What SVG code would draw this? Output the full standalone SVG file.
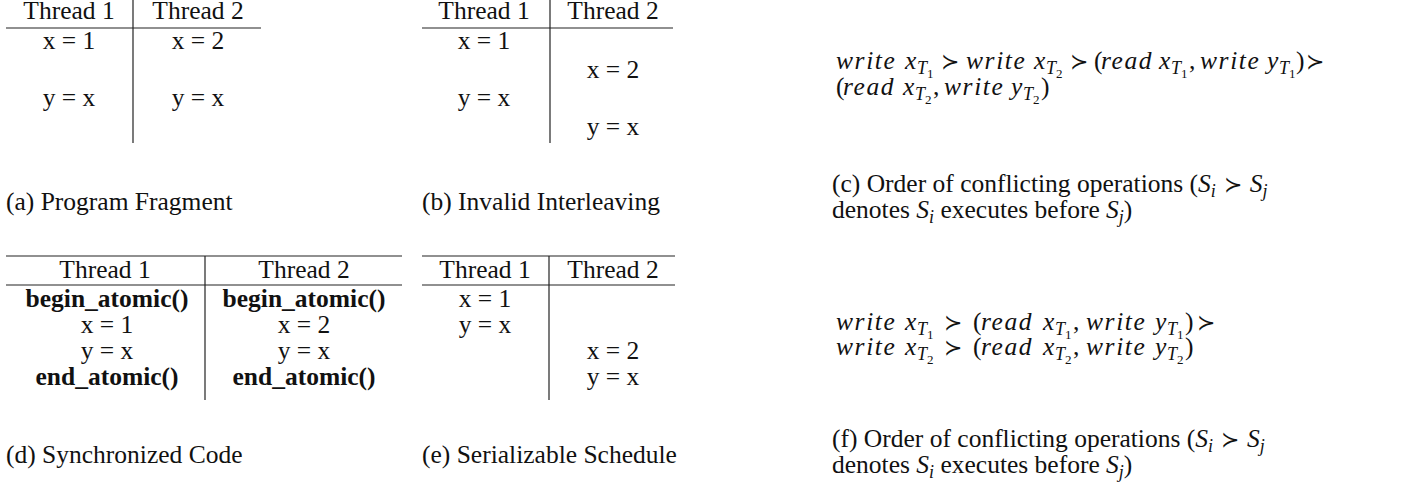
<svg xmlns="http://www.w3.org/2000/svg" width="1411" height="488" viewBox="0 0 1411 488">
  <style>
    text { font-family: "Liberation Serif", "Times New Roman", serif; font-size: 25.5px; fill: #111; }
    .c { text-anchor: middle; }
    .b { font-weight: bold; }
    .rule { stroke: #222; stroke-width: 1.2; fill: none; }
    .mi { font-style: italic; }
    .w { font-style: italic; letter-spacing: 1.6px; }
    .sub { font-style: italic; font-size: 18px; }
    .ss { font-size: 13px; }
    .op { font-family: "DejaVu Serif", serif; font-size: 22px; }
    .cs { font-style: italic; font-size: 18px; }
  </style>

  <!-- (a) program fragment -->
  <g id="table-a">
    <line class="rule" x1="6" y1="28" x2="261" y2="28"/>
    <line class="rule" x1="133" y1="0" x2="133" y2="143"/>
    <text class="c" x="69" y="19">Thread 1</text>
    <text class="c" x="198" y="19">Thread 2</text>
    <text class="c" x="69" y="49">x = 1</text>
    <text class="c" x="198" y="49">x = 2</text>
    <text class="c" x="69" y="106">y = x</text>
    <text class="c" x="198" y="106">y = x</text>
    <text x="6" y="210">(a) Program Fragment</text>
  </g>

  <!-- (b) invalid interleaving -->
  <g id="table-b">
    <line class="rule" x1="422" y1="28" x2="673" y2="28"/>
    <line class="rule" x1="550" y1="0" x2="550" y2="143"/>
    <text class="c" x="484" y="19">Thread 1</text>
    <text class="c" x="613" y="19">Thread 2</text>
    <text class="c" x="484" y="49">x = 1</text>
    <text class="c" x="613" y="78">x = 2</text>
    <text class="c" x="484" y="106">y = x</text>
    <text class="c" x="613" y="135">y = x</text>
    <text x="422" y="210">(b) Invalid Interleaving</text>
  </g>

  <!-- (c) order of conflicting operations -->
  <g id="order-c">
    <text y="69">
      <tspan class="w" x="836">write</tspan><tspan class="mi" x="905">x</tspan><tspan class="sub" x="917" dy="5">T</tspan><tspan class="ss" x="927" dy="4">1</tspan>
      <tspan class="op" x="941" dy="-9">≻</tspan>
      <tspan class="w" x="966">write</tspan><tspan class="mi" x="1034">x</tspan><tspan class="sub" x="1046" dy="5">T</tspan><tspan class="ss" x="1056" dy="4">2</tspan>
      <tspan class="op" x="1070" dy="-9">≻</tspan>
      <tspan x="1094">(</tspan><tspan class="w" x="1101">read</tspan><tspan class="mi" x="1159">x</tspan><tspan class="sub" x="1171" dy="5">T</tspan><tspan class="ss" x="1181" dy="4">1</tspan><tspan x="1189" dy="-9">,</tspan>
      <tspan class="w" x="1200">write</tspan><tspan class="mi" x="1267">y</tspan><tspan class="sub" x="1279" dy="5">T</tspan><tspan class="ss" x="1289" dy="4">1</tspan><tspan x="1296" dy="-9">)</tspan>
      <tspan class="op" x="1306">≻</tspan>
    </text>
    <text y="95">
      <tspan x="836">(</tspan><tspan class="w" x="843">read</tspan><tspan class="mi" x="903">x</tspan><tspan class="sub" x="915" dy="5">T</tspan><tspan class="ss" x="925" dy="4">2</tspan><tspan x="933" dy="-9">,</tspan>
      <tspan class="w" x="944">write</tspan><tspan class="mi" x="1011">y</tspan><tspan class="sub" x="1023" dy="5">T</tspan><tspan class="ss" x="1033" dy="4">2</tspan><tspan x="1041" dy="-9">)</tspan>
    </text>
    <text x="832" y="192">(c) Order of conflicting operations (<tspan class="mi">S</tspan><tspan class="cs" dy="5">i</tspan><tspan class="op" dx="8" dy="-5">≻</tspan><tspan class="mi" dx="8">S</tspan><tspan class="cs" dy="5">j</tspan></text>
    <text x="832" y="218">denotes <tspan class="mi">S</tspan><tspan class="cs" dy="5">i</tspan><tspan dy="-5"> executes before </tspan><tspan class="mi">S</tspan><tspan class="cs" dy="5">j</tspan><tspan dy="-5">)</tspan></text>
  </g>

  <!-- (d) synchronized code -->
  <g id="table-d">
    <line class="rule" x1="6" y1="256" x2="402" y2="256"/>
    <line class="rule" x1="6" y1="285" x2="402" y2="285"/>
    <line class="rule" x1="205" y1="256" x2="205" y2="400"/>
    <text class="c" x="105" y="278">Thread 1</text>
    <text class="c" x="304" y="278">Thread 2</text>
    <text class="c b" x="107" y="307">begin_atomic()</text>
    <text class="c b" x="304" y="307">begin_atomic()</text>
    <text class="c" x="107" y="333">x = 1</text>
    <text class="c" x="304" y="333">x = 2</text>
    <text class="c" x="107" y="359">y = x</text>
    <text class="c" x="304" y="359">y = x</text>
    <text class="c b" x="107" y="385">end_atomic()</text>
    <text class="c b" x="304" y="385">end_atomic()</text>
    <text x="6" y="463">(d) Synchronized Code</text>
  </g>

  <!-- (e) serializable schedule -->
  <g id="table-e">
    <line class="rule" x1="422" y1="256" x2="675" y2="256"/>
    <line class="rule" x1="422" y1="285" x2="675" y2="285"/>
    <line class="rule" x1="549" y1="256" x2="549" y2="400"/>
    <text class="c" x="485" y="278">Thread 1</text>
    <text class="c" x="613" y="278">Thread 2</text>
    <text class="c" x="485" y="307">x = 1</text>
    <text class="c" x="485" y="333">y = x</text>
    <text class="c" x="613" y="359">x = 2</text>
    <text class="c" x="613" y="385">y = x</text>
    <text x="422" y="463">(e) Serializable Schedule</text>
  </g>

  <!-- (f) order of conflicting operations -->
  <g id="order-f">
    <text y="330">
      <tspan class="w" x="836">write</tspan><tspan class="mi" x="905">x</tspan><tspan class="sub" x="917" dy="5">T</tspan><tspan class="ss" x="927" dy="4">1</tspan>
      <tspan class="op" x="944" dy="-9">≻</tspan>
      <tspan x="973">(</tspan><tspan class="w" x="981">read</tspan><tspan class="mi" x="1043">x</tspan><tspan class="sub" x="1055" dy="5">T</tspan><tspan class="ss" x="1065" dy="4">1</tspan><tspan x="1073" dy="-9">,</tspan>
      <tspan class="w" x="1086">write</tspan><tspan class="mi" x="1155">y</tspan><tspan class="sub" x="1167" dy="5">T</tspan><tspan class="ss" x="1177" dy="4">1</tspan><tspan x="1185" dy="-9">)</tspan>
      <tspan class="op" x="1197">≻</tspan>
    </text>
    <text y="355">
      <tspan class="w" x="836">write</tspan><tspan class="mi" x="905">x</tspan><tspan class="sub" x="917" dy="5">T</tspan><tspan class="ss" x="927" dy="4">2</tspan>
      <tspan class="op" x="944" dy="-9">≻</tspan>
      <tspan x="973">(</tspan><tspan class="w" x="981">read</tspan><tspan class="mi" x="1043">x</tspan><tspan class="sub" x="1055" dy="5">T</tspan><tspan class="ss" x="1065" dy="4">2</tspan><tspan x="1073" dy="-9">,</tspan>
      <tspan class="w" x="1086">write</tspan><tspan class="mi" x="1155">y</tspan><tspan class="sub" x="1167" dy="5">T</tspan><tspan class="ss" x="1177" dy="4">2</tspan><tspan x="1185" dy="-9">)</tspan>
    </text>
    <text x="832" y="447">(f) Order of conflicting operations (<tspan class="mi">S</tspan><tspan class="cs" dy="5">i</tspan><tspan class="op" dx="8" dy="-5">≻</tspan><tspan class="mi" dx="8">S</tspan><tspan class="cs" dy="5">j</tspan></text>
    <text x="832" y="473">denotes <tspan class="mi">S</tspan><tspan class="cs" dy="5">i</tspan><tspan dy="-5"> executes before </tspan><tspan class="mi">S</tspan><tspan class="cs" dy="5">j</tspan><tspan dy="-5">)</tspan></text>
  </g>
</svg>
